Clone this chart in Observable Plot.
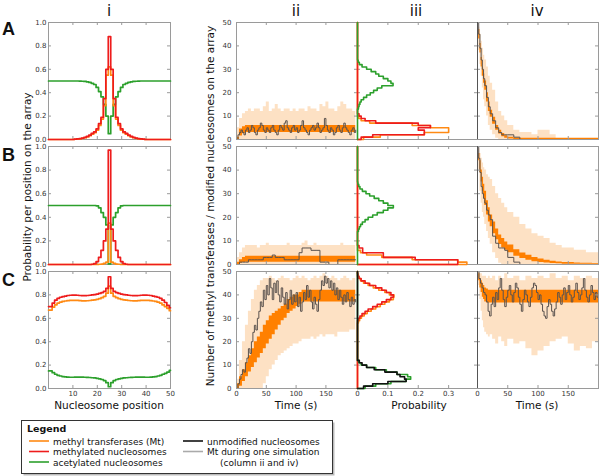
<!DOCTYPE html>
<html><head><meta charset="utf-8">
<script src="https://cdn.jsdelivr.net/npm/d3@7"></script>
<script src="https://cdn.jsdelivr.net/npm/@observablehq/plot@0.6"></script>
<style>
html,body{margin:0;padding:0;background:#fff;}
#root{position:relative;width:600px;height:476px;overflow:hidden;background:#fff;}
#root svg{position:absolute;}
</style></head><body><div id="root"></div>
<script>
// ---------------- DATA ----------------
// Column i : probability per nucleosome position (positions 1..50)
const A_green = [0.5,0.5,0.5,0.5,0.5,0.5,0.5,0.5,0.5,0.5,0.5,0.5,
  0.499,0.498,0.496,0.493,0.488,0.48,0.47,0.445,0.41,0.365,0.3,0.2,
  0.05,
  0.2,0.3,0.365,0.41,0.445,0.47,0.48,0.488,0.493,0.496,0.498,0.499,
  0.5,0.5,0.5,0.5,0.5,0.5,0.5,0.5,0.5,0.5,0.5,0.5,0.5];
const A_red = [0,0,0,0,0,0,0,0,0,0,
  0.003,0.005,0.008,0.012,0.018,0.026,0.037,0.052,0.065,0.09,0.135,0.19,0.35,0.6,
  0.88,
  0.6,0.35,0.19,0.135,0.09,0.065,0.052,0.037,0.026,0.018,0.012,0.008,0.005,0.003,
  0,0,0,0,0,0,0,0,0,0,0];
const A_orange = [0,0,0,0,0,0,0,0,0,0,
  0.002,0.004,0.006,0.01,0.015,0.022,0.032,0.045,0.058,0.08,0.12,0.175,0.29,0.55,
  0.62,
  0.55,0.29,0.175,0.12,0.08,0.058,0.045,0.032,0.022,0.015,0.01,0.006,0.004,0.002,
  0,0,0,0,0,0,0,0,0,0,0];
const B_green = [0.5,0.5,0.5,0.5,0.5,0.5,0.5,0.5,0.5,0.5,0.5,0.5,0.5,0.5,0.5,0.5,0.5,0.5,0.5,
  0.497,0.48,0.44,0.4,0.335,
  0.005,
  0.335,0.4,0.44,0.48,0.497,
  0.5,0.5,0.5,0.5,0.5,0.5,0.5,0.5,0.5,0.5,0.5,0.5,0.5,0.5,0.5,0.5,0.5,0.5,0.5,0.5];
const B_red = [0,0,0,0,0,0,0,0,0,0,0,0,0,0,0,0,0,
  0.002,0.008,0.025,0.06,0.12,0.2,0.3,
  0.97,
  0.3,0.2,0.12,0.06,0.025,0.008,0.002,
  0,0,0,0,0,0,0,0,0,0,0,0,0,0,0,0,0,0];
const B_orange = [0,0,0,0,0,0,0,0,0,0,0,0,0,0,0,0,0,
  0,0,0,0.002,0.004,0.01,0.02,
  0.35,
  0.02,0.01,0.004,0.002,0,0,0,
  0,0,0,0,0,0,0,0,0,0,0,0,0,0,0,0,0,0];
const C_red = [0.70,0.73,0.755,0.77,0.78,0.785,0.79,0.795,0.797,0.798,0.798,0.797,0.795,0.793,0.793,
  0.795,0.797,0.8,0.803,0.807,0.813,0.82,0.83,0.855,0.955,0.855,0.83,0.82,0.813,0.807,0.803,0.8,
  0.797,0.795,0.793,0.793,0.795,0.797,0.798,0.798,0.797,0.795,0.79,0.785,0.78,0.77,0.755,0.735,0.71,0.69];
const C_orange = [0.67,0.695,0.715,0.73,0.738,0.744,0.748,0.751,0.753,0.754,0.754,0.753,0.751,0.749,0.749,
  0.75,0.752,0.755,0.758,0.762,0.768,0.776,0.788,0.815,0.875,0.815,0.788,0.776,0.768,0.762,0.758,0.755,
  0.752,0.75,0.749,0.749,0.751,0.753,0.754,0.754,0.753,0.751,0.748,0.744,0.738,0.73,0.715,0.7,0.685,0.665];
const C_green = [0.15,0.135,0.122,0.113,0.107,0.102,0.099,0.097,0.096,0.096,0.097,0.098,0.098,0.097,0.096,
  0.095,0.094,0.092,0.09,0.087,0.083,0.077,0.068,0.05,0.015,0.05,0.068,0.077,0.083,0.087,0.09,0.092,
  0.094,0.095,0.096,0.097,0.098,0.098,0.097,0.096,0.096,0.097,0.099,0.102,0.107,0.113,0.122,0.13,0.14,0.155];

// Column iii : histograms (probability per count bin, first bin = start)
const A_iii_green_start = 13;
const A_iii_green = [0.003,0.005,0.008,0.012,0.02,0.03,0.042,0.053,0.065,0.08,0.117,0.11,0.1,0.085,0.07,0.06,0.045,0.03,0.015,0.006,0.002];
const A_iii_orange_start = 0;
const A_iii_orange = [0.02,0.075,0.22,0.30,0.30,0.24,0.18,0.04,0.012,0.004];
const A_iii_red_start = 0;
const A_iii_red = [0.012,0.05,0.22,0.22,0.2,0.24,0.2,0.06,0.025,0.012,0.005];
const B_iii_green_start = 14;
const B_iii_green = [0.003,0.006,0.01,0.016,0.025,0.035,0.05,0.065,0.085,0.1,0.118,0.1,0.085,0.07,0.055,0.04,0.028,0.016,0.008,0.004,0.001];
const B_iii_orange_start = 0;
const B_iii_orange = [0.36,0.33,0.18,0.08,0.03,0.01];
const B_iii_red_start = 0;
const B_iii_red = [0.33,0.33,0.19,0.085,0.085,0.017,0.017,0.005];
const C_iii_orange_start = 28;
const C_iii_orange = [0.003,0.007,0.013,0.022,0.032,0.045,0.06,0.075,0.09,0.105,0.118,0.12,0.105,0.09,0.07,0.052,0.035,0.02,0.01,0.004];
const C_iii_red_start = 29;
const C_iii_red = [0.003,0.008,0.015,0.025,0.035,0.05,0.065,0.08,0.095,0.11,0.118,0.11,0.095,0.08,0.06,0.04,0.025,0.012,0.005,0.002];
const C_iii_green_start = 0;
const C_iii_green = [0.025,0.06,0.11,0.16,0.175,0.165,0.13,0.095,0.06,0.03,0.012,0.004];
const C_iii_black_start = 0;
const C_iii_black = [0.02,0.05,0.1,0.16,0.155,0.14,0.13,0.09,0.055,0.03,0.015,0.006];

// Column ii : time courses (bands every 5 s, one simulation every 2.5 s)
const t5 = d3.range(0, 201, 5);
const A_ii_lightHi = [5,9,11,12,13,12,13,13,12,14,16,12,13,15,13,12,13,13,12,13,12,13,13,12,14,13,13,12,15,14,16,13,13,12,14,16,15,13,13,12,13];
const A_ii_darkLo = [0,1.5,2.5,3,3,3,3,3,3,3,3,3,3,3,3,3,3,3,3,3,3,3,3,3,3,3,3,3,3,3,3,3,3,3,3,3,3,3,3,3,3];
const A_ii_darkHi = [1,4.5,5.5,6,6,6,6,6,6,6,6,6,6,6,6,6,6,6,6,6,6,6,6,6,6,6,6,6,6,6,6,6,6,6,6,6,6,6,6,6,6];
const A_ii_sim = [0,2,3,4,3,2,4,5,3,4,6,5,3,2,4,5,7,6,4,3,5,4,3,5,6,4,3,2,4,6,5,4,7,8,5,4,3,5,6,4,
  5,3,4,6,8,5,4,3,2,4,5,6,4,5,7,5,3,4,5,9,6,4,3,5,4,2,3,5,6,4,3,5,7,5,4,3,2,4,5,3,4];
const B_ii_lightHi = [3,5,7,8,8,8,8,7,8,8,9,8,8,8,8,8,8,9,8,8,8,8,9,10,8,8,9,8,8,8,8,8,8,8,8,9,8,8,8,8,8];
const B_ii_darkLo = [0,0.5,0.8,1,1,1,1,1,1,1,1,1,1,1,1,1,1,1,1,1,1,1,1,1,1,1,1,1,1,1,1,1,1,1,1,1,1,1,1,1,1];
const B_ii_darkHi = [1,2,3,3.5,3.5,3.5,3.5,3.5,3.5,3.5,3.5,3.5,3.5,3.5,3.5,3.5,3.5,3.5,3.5,3.5,3.5,3.5,3.5,3.5,3.5,3.5,3.5,3.5,3.5,3.5,3.5,3.5,3.5,3.5,3.5,3.5,3.5,3.5,3.5,3.5,3.5];
const B_ii_sim = [0,1,1,1,2,2,2,2,2,3,3,3,4,3,3,3,2,2,2,2,2,5,7,7,7,6,6,6,1,1,1,0,0,0,2,2,2,2,2,2,2];
const C_ii_lightHi = [4,12,20,27,33,38,42,44,46,47,47,48,47,46,47,48,47,47,46,47,48,47,48,47,46,47,48,47,48,49,48,47,48,47,46,47,48,47,46,47,47];
const C_ii_lightLo = [0,0,0,0,0,0,0,0,0,2,5,8,10,12,14,15,16,17,18,19,19,20,21,21,21,22,21,22,23,22,23,23,23,22,24,24,24,24,25,25,25];
const C_ii_darkLo = [0,1,3,5,7,9,11,13,15,17,19,21,23,25,27,29,30,32,33,34,35,36,37,37,37,37,37,37,37,37,37,37,37,37,37,37,37,37,37,37,37];
const C_ii_darkHi = [2,5,8,11,14,17,20,22,24,27,29,31,32,33,34,35,36,38,39,40,40,41,42,42,42,42,42,42,42,42,42,42,42,42,42,42,42,42,42,42,42];
const C_ii_sim = [0,2,4,6,8,7,11,13,17,15,20,24,27,25,30,33,37,35,42,38,44,40,47,43,38,45,41,46,40,37,
  43,39,36,41,34,38,42,36,40,37,41,35,39,33,37,41,38,44,39,42,37,34,39,36,33,38,42,46,44,48,
  45,47,43,46,42,45,40,43,38,42,39,36,40,37,41,38,35,39,36,38,37];

// Column iv : decay time courses
const tDecay = [0,2,4,6,8,10,12,15,18,21,25,30,35,40,45,50,60,70,80,90,100,110,120,130,140,150,160,170,180,190,200];
const A_iv_lightHi = [50,48,45,42,39,36,34,31,27,24,21,16,12,10,8,6,4,3,3,2,4,4,2,0,0,0,0,0,0,0,0];
const A_iv_lightLo = [50,38,32,27,22,17,14,10,6,4,2,0.5,0,0,0,0,0,0,0,0,0,0,0,0,0,0,0,0,0,0,0];
const A_iv_darkHi = [50,47,41,35,31,28,25,20,16,12.5,9.5,6,4,2.6,1.6,1,0.6,0.5,0.5,0.5,0.5,0.5,0.5,0.5,0.5,0.5,0.5,0.5,0.5,0.5,0.5];
const A_iv_darkLo = [50,43,37,31,27,24,21,16,12,9.5,6.5,4,2.3,1.2,0.5,0.2,0,0,0,0,0,0,0,0,0,0,0,0,0,0,0];
const A_iv_sim = [50,45,39,34,30,26,23,18,14,11,8,5,3,2,2,2,1,0,0,0,0,0,0,0,0,0,0,0,0,0,0];
const B_iv_lightHi = [50,49,47,45,43,41,40,38,37,36,33,30,28,26,24,22,20,17,15,13,12,11,9,8,7,7,6,6,5,5,5];
const B_iv_lightLo = [50,40,31,26,22,20,17,14,11,8.6,5,2.5,0.5,0,0,0,0,0,0,0,0,0,0,0,0,0,0,0,0,0,0];
const B_iv_darkHi = [50,47,44,40,37,34,31,27,24,21,18,15,12.5,11,9.5,8.3,6.2,4.9,3.9,3,2.3,1.8,1.4,1.1,0.9,0.8,0.6,0.5,0.5,0.4,0.4];
const B_iv_darkLo = [50,44,39,35,31,28,25,21,18,16,13,10.5,8.5,7,6,5,3.5,2.5,1.8,1.2,0.8,0.6,0.4,0.3,0.1,0.1,0.1,0.1,0.1,0.1,0.1];
const B_iv_sim = [50,45,39,33,30,28,26,23,21,19,12,9,7,7,6,3,1,0,0,0,0,0,0,0,0,0,0,0,0,0,0];
const C_iv_lightHi = [50,50,49,49,48,48,48,47,48,47,48,46,48,47,49,47,48,46,48,47,48,47,49,47,48,46,48,47,48,47,48];
const C_iv_lightLo = [50,44,38,33,29,26,24,23,22,23,21,19,22,20,18,21,19,20,17,14,16,18,20,21,22,19,16,18,17,20,21];
const C_iv_darkHi = [50,49,47,46,45,44,43,42.5,42,42,42,42,42,42,42,42,42,42,42,42,42,42,42,42,42,42,42,42,42,42,42];
const C_iv_darkLo = [49,46,43,41,39,38,37,36.5,36.5,36.5,36.5,36.5,36.5,36.5,36.5,36.5,36.5,36.5,36.5,36.5,36.5,36.5,36.5,36.5,36.5,36.5,36.5,36.5,36.5,36.5,36.5];
const C_iv_sim = [50,47,45,43,41,40,37,33,31,36,39,35,41,38,43,47,42,38,35,39,42,44,40,37,41,45,43,39,36,33,
  38,42,40,37,35,39,43,45,44,41,38,40,36,33,31,30,35,38,36,33,31,34,37,41,39,36,40,43,38,41,
  44,40,37,39,42,45,41,38,40,43,47,42,39,37,40,44,41,38,41,39,40];

// Tick values
const probTicks = [0, 0.2, 0.4, 0.6, 0.8, 1.0];
const posTicks = [10, 20, 30, 40, 50];
const countTicks = [0, 10, 20, 30, 40, 50];
const timeTicks = [0, 50, 100, 150];
const histTicks = [0, 0.1, 0.2, 0.3];

// ---------------- STYLE ----------------
const ORANGE = "#ff8a14", RED = "#ee1c1c", GREEN = "#2ca02c", BLACK = "#111111";
const LIGHT = "#fde1c4", DARK = "#ff8000", SIM = "#5a524e", FRAME = "#9a9a9a";
const COLS = {i: [48, 170], ii: [236, 357], iii: [357, 477], iv: [477, 598]};
const ROWS = {A: [22, 139], B: [146, 264], C: [271, 388]};

const root = document.getElementById("root");
function mount(col, row, opts, marks) {
  const [x0, x1] = COLS[col], [y0, y1] = ROWS[row];
  const w = x1 - x0, h = y1 - y0;
  const svg = Plot.plot(Object.assign({
    width: w, height: h, margin: 0,
    style: {overflow: "visible", background: "transparent", fontFamily: "'DejaVu Sans', sans-serif", fontSize: "7px", color: "#333"},
    marks: marks(w, h)
  }, opts));
  svg.style.left = x0 + "px"; svg.style.top = y0 + "px";
  root.appendChild(svg);
}
function frameMarks(w, h, xt, yt) {
  return [
    Plot.frame({stroke: FRAME, strokeWidth: 1}),
    Plot.tickY(yt, {insetRight: w - 3, stroke: FRAME}),
    Plot.tickY(yt, {insetLeft: w - 3, stroke: FRAME}),
    Plot.tickX(xt, {insetTop: h - 3, stroke: FRAME}),
    Plot.tickX(xt, {insetBottom: h - 3, stroke: FRAME})
  ];
}
function stepRows(vals) {
  const rows = vals.map((v, i) => ({x: i === 0 ? 0 : i + 0.5, v}));
  rows.push({x: 50, v: vals[vals.length - 1]});
  return rows;
}
function histOutline(start, vals) {
  const pts = [{p: 0, y: 0}];
  for (let b = 0; b < 50; b++) {
    const k = b - start;
    const v = (k >= 0 && k < vals.length) ? vals[k] : 0;
    pts.push({p: v, y: b}, {p: v, y: b + 1});
  }
  pts.push({p: 0, y: 50});
  return pts;
}
function band(t, lo, hi) { return t.map((tt, i) => ({t: tt, lo: Array.isArray(lo) ? lo[i] : lo, hi: hi[i]})); }
function series(t, v) { return v.map((vv, i) => ({t: t[i], v: vv})); }
const t25 = A_ii_sim.map((_, i) => i * 2.5);
const xAxis = (ticks, fmt) => Plot.axisX({ticks, tickFormat: fmt, tickSize: 0, tickPadding: 3, label: null});

// ---------------- COLUMN i ----------------
const colI = {A: [A_green, A_orange, A_red], B: [B_green, B_orange, B_red], C: [C_green, C_orange, C_red]};
for (const row of ["A", "B", "C"]) {
  const [g, o, r] = colI[row];
  mount("i", row, {x: {domain: [0, 50], axis: null}, y: {domain: [0, 1], axis: null}}, (w, h) => [
    ...frameMarks(w, h, posTicks, probTicks),
    Plot.line(stepRows(g), {x: "x", y: "v", stroke: GREEN, strokeWidth: 1.7, curve: "step-after"}),
    Plot.line(stepRows(o), {x: "x", y: "v", stroke: ORANGE, strokeWidth: 1.7, curve: "step-after"}),
    Plot.line(stepRows(r), {x: "x", y: "v", stroke: RED, strokeWidth: 1.7, curve: "step-after"}),
    Plot.axisY({ticks: probTicks, tickFormat: ".1f", tickSize: 0, tickPadding: 2, label: null}),
    ...(row === "C" ? [xAxis(posTicks, d3.format("d"))] : [])
  ]);
}

// ---------------- COLUMN ii ----------------
const colII = {
  A: {lightLo: 0, lightHi: A_ii_lightHi, darkLo: A_ii_darkLo, darkHi: A_ii_darkHi, sim: A_ii_sim, simT: t25},
  B: {lightLo: 0, lightHi: B_ii_lightHi, darkLo: B_ii_darkLo, darkHi: B_ii_darkHi, sim: B_ii_sim, simT: t5},
  C: {lightLo: C_ii_lightLo, lightHi: C_ii_lightHi, darkLo: C_ii_darkLo, darkHi: C_ii_darkHi, sim: C_ii_sim, simT: t25}
};
for (const row of ["A", "B", "C"]) {
  const d = colII[row];
  mount("ii", row, {x: {domain: [0, 203], axis: null}, y: {domain: [0, 50], axis: null}}, (w, h) => [
    Plot.areaY(band(t5, d.lightLo, d.lightHi), {x: "t", y1: "lo", y2: "hi", fill: LIGHT, curve: "step-after"}),
    Plot.areaY(band(t5, d.darkLo, d.darkHi), {x: "t", y1: "lo", y2: "hi", fill: DARK, curve: "step-after"}),
    Plot.line(series(d.simT, d.sim), {x: "t", y: "v", stroke: SIM, strokeWidth: 1, curve: "step-after"}),
    ...frameMarks(w, h, timeTicks, countTicks),
    Plot.axisY({ticks: countTicks, tickFormat: d3.format("d"), tickSize: 0, tickPadding: 5, label: null}),
    ...(row === "C" ? [xAxis(timeTicks, d3.format("d"))] : [])
  ]);
}

// ---------------- COLUMN iii ----------------
const colIII = {
  A: [[A_iii_orange_start, A_iii_orange, ORANGE], [A_iii_red_start, A_iii_red, RED], [A_iii_green_start, A_iii_green, GREEN]],
  B: [[B_iii_orange_start, B_iii_orange, ORANGE], [B_iii_red_start, B_iii_red, RED], [B_iii_green_start, B_iii_green, GREEN]],
  C: [[C_iii_orange_start, C_iii_orange, ORANGE], [C_iii_red_start, C_iii_red, RED], [C_iii_green_start, C_iii_green, GREEN], [C_iii_black_start, C_iii_black, BLACK]]
};
for (const row of ["A", "B", "C"]) {
  mount("iii", row, {x: {domain: [0, 0.395], axis: null}, y: {domain: [0, 50], axis: null}}, (w, h) => [
    ...frameMarks(w, h, histTicks, countTicks),
    ...colIII[row].map(([s, v, c]) => Plot.line(histOutline(s, v), {x: "p", y: "y", stroke: c, strokeWidth: 1.6})),
    ...(row === "C" ? [xAxis(histTicks, d3.format("~g"))] : [])
  ]);
}

// ---------------- COLUMN iv ----------------
const colIV = {
  A: [A_iv_lightLo, A_iv_lightHi, A_iv_darkLo, A_iv_darkHi, A_iv_sim],
  B: [B_iv_lightLo, B_iv_lightHi, B_iv_darkLo, B_iv_darkHi, B_iv_sim],
  C: [C_iv_lightLo, C_iv_lightHi, C_iv_darkLo, C_iv_darkHi, C_iv_sim]
};
for (const row of ["A", "B", "C"]) {
  const [ll, lh, dl, dh, sim] = colIV[row];
  const simT = row === "C" ? t25 : tDecay;
  mount("iv", row, {x: {domain: [0, 200], axis: null}, y: {domain: [0, 50], axis: null}}, (w, h) => [
    Plot.areaY(band(tDecay, ll, lh), {x: "t", y1: "lo", y2: "hi", fill: LIGHT, curve: "step-after"}),
    Plot.areaY(band(tDecay, dl, dh), {x: "t", y1: "lo", y2: "hi", fill: DARK, curve: "step-after"}),
    Plot.line(series(simT, sim), {x: "t", y: "v", stroke: SIM, strokeWidth: 1, curve: "step-after"}),
    ...frameMarks(w, h, timeTicks, countTicks),
    Plot.ruleX([0], {stroke: "#555", strokeWidth: 1}),
    ...(row === "C" ? [xAxis(timeTicks, d3.format("d"))] : [])
  ]);
}

// ---------------- TEXT & LEGEND ----------------
const F = "font-family:'DejaVu Sans',sans-serif;";
const overlay = `
<svg width="600" height="476" style="left:0;top:0;pointer-events:none" xmlns="http://www.w3.org/2000/svg">
  <g style="${F}font-size:15px;fill:#111" text-anchor="middle">
    <text x="109" y="16">i</text><text x="296" y="16">ii</text>
    <text x="416" y="16">iii</text><text x="537" y="16">iv</text>
  </g>
  <g style="font-family:'Liberation Sans',Arial,sans-serif;font-weight:bold;font-size:18px;fill:#111">
    <text x="2" y="35">A</text><text x="2" y="161">B</text><text x="2" y="286">C</text>
  </g>
  <g style="${F}font-size:10.5px;fill:#111" text-anchor="middle">
    <text x="109" y="409">Nucleosome position</text>
    <text x="296" y="409">Time (s)</text>
    <text x="419" y="409">Probability</text>
    <text x="537" y="409">Time (s)</text>
    <text transform="translate(27,187) rotate(-90)" dy="0.35em">Probability per position on the array</text>
    <text transform="translate(210,206) rotate(-90)" dy="0.35em">Number of methyl transferases / modified nucleosomes on the array</text>
  </g>
  <rect x="23.5" y="422.5" width="311" height="53" fill="#bbb"/>
  <rect x="21.5" y="420.5" width="311" height="53" fill="#fff" stroke="#333" stroke-width="1"/>
  <text x="27" y="432" style="${F}font-size:9.5px;font-weight:bold;fill:#111">Legend</text>
  <g stroke-width="1.6">
    <line x1="29" x2="49" y1="441" y2="441" stroke="${ORANGE}"/>
    <line x1="29" x2="49" y1="451.5" y2="451.5" stroke="${RED}"/>
    <line x1="29" x2="49" y1="462" y2="462" stroke="${GREEN}"/>
    <line x1="183" x2="203" y1="441" y2="441" stroke="${BLACK}"/>
    <line x1="183" x2="203" y1="451.5" y2="451.5" stroke="#aaa"/>
  </g>
  <g style="${F}font-size:9px;fill:#111">
    <text x="53" y="444.5">methyl transferases (Mt)</text>
    <text x="53" y="455">methylated nucleosomes</text>
    <text x="53" y="465.5">acetylated nucleosomes</text>
    <text x="207" y="444.5">unmodified nucleosomes</text>
    <text x="207" y="455">Mt during one simulation</text>
    <text x="220" y="465.5">(column ii and iv)</text>
  </g>
</svg>`;
root.insertAdjacentHTML("beforeend", overlay);
</script></body></html>
